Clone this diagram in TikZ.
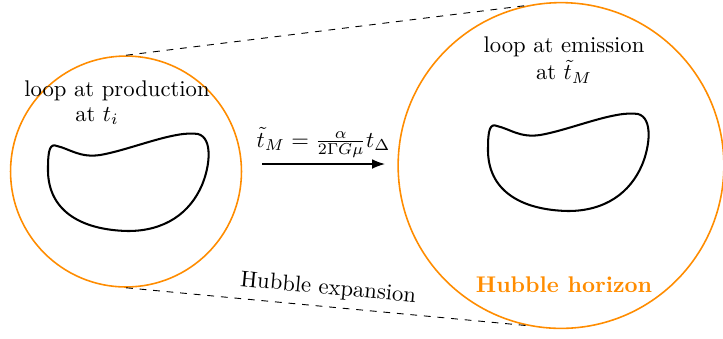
\documentclass[tikz,border=0pt]{standalone}
\usepackage{amsmath}
\usepackage{tikz}
\usetikzlibrary{arrows.meta, positioning, calc}
\definecolor{hubbleorange}{RGB}{255,140,0}
\tikzset{
  %% ---- circles ----
  horizon/.style = {circle, draw=hubbleorange, line width=0.7pt,
                    minimum size=#1, inner sep=0pt},
  %% ---- loops and labels ----
  strloop/.style = {draw=black, line width=0.9pt},
  txt/.style     = {align=center, font=\normalsize},
  %% ---- lines ----
  arrow/.style   = {-Latex, line width=0.6pt},
  guide/.style   = {dashed, line width=0.4pt},
}
%% closed loop drawn around a shift point
\newcommand{\loopshape}[1]{%
  \draw[strloop, shift={#1}] (57,146)
    .. controls (70,149) and (80,158) .. (100,155)
    .. controls (130,150) and (175,130) .. (198,134)
    .. controls (213,138) and (210,166) .. (202,185)
    .. controls (190,213) and (165,231) .. (128,231)
    .. controls (80,230) and (47,210) .. (48,168)
    .. controls (48,150) and (50,143) .. cycle;}

\begin{document}
\begin{tikzpicture}[x=0.0155cm, y=-0.0155cm]
  \useasboundingbox (0,0) rectangle (723,338);

  %% the two horizons
  \node[horizon=3.58cm] (lc) at (126,171.5) {};
  \node[horizon=5.05cm] (rc) at (561,165.5) {};

  %% the loops
  \loopshape{(0,0)}
  \loopshape{(440,-20)}

  %% labels
  \node[txt] (prodlabel) at (117,91) {loop at production};
  \node[txt] (prodtime)  at (97,116) {at $t_i$};
  \node[txt] (emlabel)   at (564,60) {loop at emission\\ at $\tilde{t}_M$};
  \node[txt, text=hubbleorange, font=\normalsize\bfseries] (horlabel)
    at (564,285) {Hubble horizon};

  %% evolution arrow
  \coordinate (arrstart) at (262,164);
  \coordinate (arrend)   at (385,164);
  \draw[arrow] (arrstart) -- node[above=-1pt]
    {$\tilde{t}_M = \frac{\alpha}{2\Gamma G\mu}t_\Delta$} (arrend);

  %% expansion lines
  \draw[guide] (lc.north) -- (rc.102);
  \draw[guide] (lc.south) -- node[midway, above, sloped] {Hubble expansion} (rc.258);

\end{tikzpicture}
\end{document}
